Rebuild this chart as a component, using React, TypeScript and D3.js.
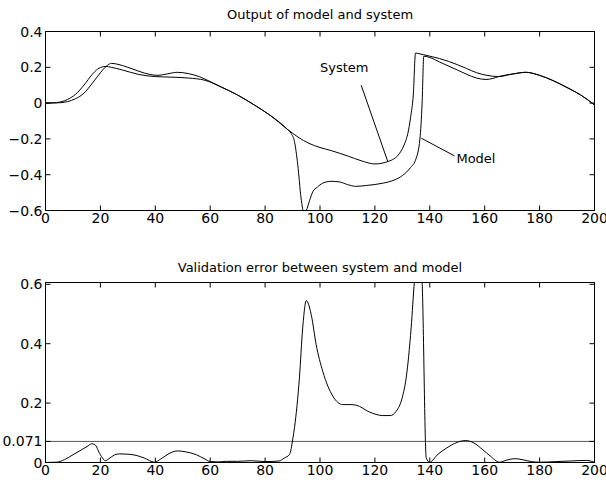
import React from 'react';
import * as d3 from 'd3';

// time steps and outputs
const sysX = [0, 4, 8, 11, 14, 17, 19, 21, 22, 24, 28, 34, 40, 46, 52, 58, 64, 70, 76, 82, 88, 92, 96, 100, 104, 110, 115, 120, 125, 129, 131, 132, 133, 134, 134.8, 135.5, 140, 143.5, 150, 153.3, 157, 160.5, 165, 170, 175, 180, 185, 190, 195, 200];
const sysY = [0, 0.003, 0.02, 0.05, 0.1, 0.16, 0.19, 0.203, 0.205, 0.2, 0.185, 0.16, 0.148, 0.145, 0.14, 0.128, 0.09, 0.045, -0.01, -0.07, -0.145, -0.19, -0.225, -0.248, -0.265, -0.295, -0.322, -0.34, -0.325, -0.28, -0.22, -0.17, -0.08, 0.05, 0.28, 0.278, 0.262, 0.249, 0.215, 0.194, 0.17, 0.156, 0.148, 0.162, 0.172, 0.155, 0.125, 0.087, 0.045, -0.01];

const modX = [0, 4, 8, 11, 14, 17, 19, 21, 22.5, 24, 26, 30, 34, 38, 41, 44, 48, 52, 56, 60, 64, 70, 76, 82, 88, 89.5, 90.7, 91.9, 93.1, 94.2, 95, 96.2, 97.4, 99, 101, 104, 107, 110, 113, 117, 123, 127, 130, 133, 135, 136.4, 137.2, 137.8, 140, 143.5, 150, 153.3, 157, 160.5, 163, 165, 170, 175, 180, 185, 190, 195, 200];
const modY = [0, 0.001, 0.008, 0.025, 0.055, 0.11, 0.15, 0.188, 0.21, 0.222, 0.218, 0.2, 0.178, 0.16, 0.155, 0.162, 0.172, 0.165, 0.148, 0.12, 0.09, 0.045, -0.01, -0.07, -0.145, -0.17, -0.215, -0.345, -0.53, -0.615, -0.6, -0.545, -0.494, -0.47, -0.447, -0.437, -0.44, -0.455, -0.465, -0.46, -0.447, -0.43, -0.405, -0.36, -0.31, -0.2, 0.0, 0.262, 0.255, 0.23, 0.185, 0.162, 0.14, 0.132, 0.138, 0.148, 0.162, 0.172, 0.155, 0.125, 0.087, 0.045, -0.01];

const errX = [0, 4, 7, 10, 13, 15.5, 16.8, 18, 19.7, 21, 21.8, 23, 25, 27, 30, 33, 36, 39.7, 42, 45, 48, 51, 55, 58, 60, 63, 66, 70, 75, 80, 85, 87, 88.9, 90.1, 90.7, 92.5, 93.7, 95, 96.8, 98.6, 101, 104.7, 108.3, 111, 113.2, 118, 122.9, 125.5, 127.8, 130, 131.4, 133.2, 134.4, 135.5, 136.4, 137.2, 138.7, 139.9, 143, 146, 150, 153, 156, 159.3, 162, 165.4, 168, 171, 174, 177, 180, 186, 191, 197, 199, 200];
const errY = [0, 0.001, 0.01, 0.026, 0.042, 0.056, 0.063, 0.06, 0.031, 0.012, 0.006, 0.012, 0.025, 0.029, 0.028, 0.024, 0.015, 0.001, 0.012, 0.03, 0.039, 0.036, 0.026, 0.012, 0.003, 0.002, 0.004, 0.004, 0.006, 0.003, 0.005, 0.015, 0.027, 0.08, 0.117, 0.285, 0.453, 0.545, 0.498, 0.397, 0.307, 0.223, 0.195, 0.195, 0.193, 0.17, 0.158, 0.158, 0.173, 0.22, 0.285, 0.453, 0.61, 0.7, 0.7, 0.61, 0.016, 0.001, 0.028, 0.048, 0.068, 0.074, 0.066, 0.043, 0.022, 0.001, 0.008, 0.013, 0.009, 0.003, 0.001, 0.003, 0.005, 0.007, 0.004, 0];

const threshold = 0.071;

const xTicks = [0, 20, 40, 60, 80, 100, 120, 140, 160, 180, 200];
const topTicks = [-0.6, -0.4, -0.2, 0, 0.2, 0.4];
const topLabels = ['\u22120.6', '\u22120.4', '\u22120.2', '0', '0.2', '0.4'];
const botTicks = [0, 0.071, 0.2, 0.4, 0.6];
const botLabels = ['0', '0.071', '0.2', '0.4', '0.6'];

const FONT = '"DejaVu Sans", Arial, sans-serif';
const TICK = 5;

const Panel = ({ id, title, titleY, x, y, yTicks, yLabels, children }) => {
    const [x0, x1] = x.range();
    const [yb, yt] = y.range();
    return (
      <g>
        <text x={(x0 + x1) / 2} y={titleY} textAnchor="middle" fontSize={13} fontFamily={FONT}>{title}</text>
        <clipPath id={id}>
          <rect x={x0} y={yt} width={x1 - x0} height={yb - yt} />
        </clipPath>
        <g clipPath={`url(#${id})`} fill="none">{children}</g>
        <rect x={x0} y={yt} width={x1 - x0} height={yb - yt} fill="none" stroke="#000" strokeWidth={1} />
        {xTicks.map((t) => (
          <g key={`x${t}`}>
            <line x1={x(t)} x2={x(t)} y1={yb} y2={yb - TICK} stroke="#000" />
            <line x1={x(t)} x2={x(t)} y1={yt} y2={yt + TICK} stroke="#000" />
            <text x={x(t)} y={yb + 12.5} textAnchor="middle" fontSize={14} fontFamily={FONT}>{t}</text>
          </g>
        ))}
        {yTicks.map((t, i) => (
          <g key={`y${t}`}>
            <line x1={x0} x2={x0 + TICK} y1={y(t)} y2={y(t)} stroke="#000" />
            <line x1={x1} x2={x1 - TICK} y1={y(t)} y2={y(t)} stroke="#000" />
            <text x={x0 - 3} y={y(t) + 5} textAnchor="end" fontSize={14} fontFamily={FONT}>{yLabels[i]}</text>
          </g>
        ))}
      </g>
    );
}

const App = () => {
    const x = d3.scaleLinear().domain([0, 200]).range([45.5, 594.5]);
    const yTop = d3.scaleLinear().domain([-0.6, 0.4]).range([210.5, 31.5]);
    const yBot = d3.scaleLinear().domain([0, 0.606]).range([462.5, 282.5]);

    const pathOf = (xs, ys, sy) =>
      d3.line().x((d) => x(d[0])).y((d) => sy(d[1])).curve(d3.curveMonotoneX)(xs.map((v, i) => [v, ys[i]]));

    return (
      <svg width={606} height={483} style={{ position: 'absolute', left: 0, top: 0, background: '#fff' }}>
        <Panel id="clipTop" title="Output of model and system" titleY={18.5} x={x} y={yTop} yTicks={topTicks} yLabels={topLabels}>
          <path d={pathOf(sysX, sysY, yTop)} stroke="#000" strokeWidth={1} />
          <path d={pathOf(modX, modY, yTop)} stroke="#000" strokeWidth={1} />
        </Panel>
        {/* annotations */}
        <text x={x(100)} y={yTop(0.2) + 4.5} fontSize={13} fontFamily={FONT}>System</text>
        <line x1={x(115)} y1={yTop(0.1)} x2={x(124.7)} y2={yTop(-0.327)} stroke="#000" />
        <text x={x(149.7)} y={yTop(-0.312) + 4.5} fontSize={13} fontFamily={FONT}>Model</text>
        <line x1={x(136.9)} y1={yTop(-0.196)} x2={x(149)} y2={yTop(-0.295)} stroke="#000" />

        <Panel id="clipBot" title="Validation error between system and model" titleY={271.5} x={x} y={yBot} yTicks={botTicks} yLabels={botLabels}>
          <line x1={x(0)} x2={x(200)} y1={yBot(threshold)} y2={yBot(threshold)} stroke="#555" />
          <path d={pathOf(errX, errY, yBot)} stroke="#000" strokeWidth={1} />
        </Panel>
      </svg>
    );
}

export default App
